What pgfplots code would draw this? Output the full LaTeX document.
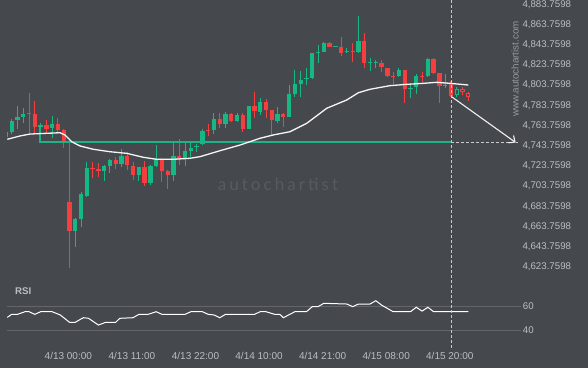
\documentclass[border=0pt]{standalone}
\usepackage{fontspec}
\setmainfont{Liberation Sans}
\newfontfamily\wmfont{Lato}[LetterSpace=18]
\usepackage{pgfplots}
\usepackage{pgfplotstable}
\pgfplotsset{compat=1.18}
\usetikzlibrary{arrows.meta}

\definecolor{bg}{RGB}{69,72,76}
\definecolor{cgreen}{RGB}{21,184,130}
\definecolor{lgreen}{RGB}{30,178,134}
\definecolor{cred}{RGB}{246,62,62}
\definecolor{lbl}{RGB}{186,189,193}
\definecolor{gridc}{RGB}{98,101,105}
\definecolor{wm}{RGB}{88,91,96}
\definecolor{wmurl}{RGB}{150,153,157}
\definecolor{dashc}{RGB}{200,202,205}

\pgfplotstableread{
i o h l c
0 4752.37 4759.30 4750.39 4757.32
1 4757.62 4769.70 4755.34 4768.21
2 4769.20 4783.06 4760.29 4772.17
3 4772.17 4781.08 4766.23 4775.14
6 4762.27 4766.23 4759.30 4764.25
8 4761.28 4773.16 4751.38 4765.24
12 4659.61 4672.18 4643.77 4671.19
13 4671.19 4697.92 4663.57 4695.94
14 4694.26 4727.62 4692.97 4721.68
17 4718.71 4724.65 4708.81 4723.66
18 4723.96 4730.29 4717.03 4729.30
20 4725.64 4740.19 4722.97 4733.56
23 4714.75 4722.97 4708.81 4722.37
25 4707.13 4724.65 4704.85 4723.66
26 4723.66 4744.45 4722.97 4730.29
29 4714.75 4746.13 4709.11 4733.56
31 4731.88 4746.73 4723.66 4738.51
32 4738.81 4746.73 4732.87 4741.78
33 4742.47 4745.44 4737.82 4743.46
34 4745.44 4759.99 4744.15 4758.31
36 4759.30 4775.83 4755.30 4770.19
38 4765.24 4777.42 4760.98 4775.14
40 4768.51 4776.43 4767.52 4774.15
42 4760.29 4783.36 4759.99 4783.06
44 4777.42 4790.68 4774.15 4786.72
47 4768.51 4782.37 4766.53 4775.14
49 4772.47 4803.85 4771.87 4794.94
50 4794.94 4818.70 4792.27 4804.84
51 4804.84 4818.01 4791.67 4808.80
52 4809.79 4820.38 4803.85 4811.08
53 4810.48 4835.83 4809.49 4835.83
54 4835.53 4843.45 4825.33 4836.52
55 4836.82 4846.72 4836.22 4845.73
57 4841.27 4842.46 4841.07 4842.26
59 4836.52 4840.18 4835.23 4837.51
61 4836.82 4872.16 4835.83 4847.41
63 4825.43 4830.28 4817.71 4826.42
64 4825.43 4828.60 4820.38 4826.42
68 4812.46 4820.98 4811.47 4818.70
70 4800.09 4803.85 4790.68 4801.08
71 4801.38 4814.74 4795.24 4812.76
73 4812.46 4830.28 4811.47 4829.39
76 4802.86 4814.74 4800.58 4803.85
}\greencandles

\pgfplotstableread{
i o h l c
4 4776.13 4795.93 4756.33 4775.14
5 4775.14 4788.01 4755.34 4762.57
7 4764.25 4769.20 4756.33 4760.29
9 4765.24 4771.18 4757.32 4759.30
10 4759.30 4760.29 4741.48 4748.71
11 4688.02 4748.41 4623.18 4659.31
15 4721.68 4727.92 4711.48 4720.69
16 4720.69 4726.63 4713.07 4718.71
19 4729.30 4732.27 4720.39 4725.64
21 4733.56 4737.82 4719.70 4724.35
22 4723.66 4727.92 4709.80 4714.75
24 4722.37 4728.91 4703.86 4707.13
27 4730.29 4731.28 4708.12 4718.71
28 4718.71 4719.70 4700.59 4714.75
30 4733.86 4750.09 4724.95 4730.59
35 4759.60 4765.24 4753.36 4758.61
37 4770.19 4776.43 4760.98 4765.24
39 4775.14 4776.43 4767.52 4768.51
41 4774.15 4775.83 4757.62 4760.29
43 4783.06 4796.62 4771.18 4778.11
45 4786.72 4789.69 4770.88 4779.10
46 4779.10 4779.10 4753.36 4769.20
48 4775.14 4776.43 4761.97 4772.47
56 4845.73 4846.72 4841.17 4841.77
58 4841.77 4851.07 4832.56 4835.83
60 4837.81 4845.13 4826.92 4836.82
62 4847.41 4855.03 4820.38 4825.33
65 4825.93 4828.60 4816.72 4821.18
66 4820.68 4820.98 4811.77 4812.46
67 4813.06 4817.02 4804.84 4812.07
69 4818.70 4818.70 4786.33 4799.59
72 4813.06 4816.72 4807.12 4812.07
74 4829.39 4830.28 4814.25 4815.73
75 4815.73 4815.73 4786.33 4802.56
77 4804.84 4807.81 4791.97 4792.96
}\redcandles

\pgfplotsset{
  candle/.style={draw=none, mark=none, forget plot,
    error bars/y dir=plus, error bars/y explicit, error bars/error mark=none},
}

\begin{document}
\begin{tikzpicture}
\useasboundingbox (0,0) rectangle (588pt,368pt);
\fill[bg] (0,0) rectangle (588pt,368pt);

\node[font=\wmfont\fontsize{17}{17}\selectfont, text=wm] at (278pt,184pt) {autochartist};
\node[rotate=90, font=\fontsize{9.8}{10}\selectfont, text=wmurl] at (515pt,299pt) {www.autochartist.com};
\node[font=\bfseries\fontsize{9.7}{10}\selectfont, text=lbl, anchor=west, inner sep=0pt] at (15pt,77pt) {RSI};

% ---------- price panel ----------
\begin{axis}[
  at={(7pt,88pt)}, anchor=south west, scale only axis,
  width=514pt, height=280pt,
  xmin=0.19, xmax=89.12, ymin=4610.8, ymax=4888.0,
  axis line style={draw=none}, major tick length=0pt,
  xtick=\empty,
  ytick={4623.7598,4643.7598,4663.7598,4683.7598,4703.7598,4723.7598,4743.7598,4763.7598,4783.7598,4803.7598,4823.7598,4843.7598,4863.7598,4883.7598},
  yticklabels={{4,623.7598},{4,643.7598},{4,663.7598},{4,683.7598},{4,703.7598},{4,723.7598},{4,743.7598},{4,763.7598},{4,783.7598},{4,803.7598},{4,823.7598},{4,843.7598},{4,863.7598},{4,883.7598}},
  yticklabel pos=right,
  yticklabel style={anchor=west, inner sep=0pt, xshift=1.3pt, font=\fontsize{9.7}{10}\selectfont, text=lbl},
  clip=true,
]
% green candles
\addplot[candle, error bars/error bar style={draw=cgreen, line width=1pt}]
  table[x=i, y=l, y error expr=\thisrow{h}-\thisrow{l}] {\greencandles};
\addplot[candle, error bars/error bar style={draw=cgreen, line width=4.3pt}]
  table[x=i, y=o, y error expr=\thisrow{c}-\thisrow{o}] {\greencandles};
% red candles
\addplot[candle, error bars/error bar style={draw=cred, line width=1pt}]
  table[x=i, y=l, y error expr=\thisrow{h}-\thisrow{l}] {\redcandles};
\addplot[candle, error bars/error bar style={draw=cred, line width=4.3pt}]
  table[x=i, y=c, y error expr=\thisrow{o}-\thisrow{c}] {\redcandles};
% hollow (forming) candles
\addplot[candle, error bars/error bar style={draw=cgreen, line width=1pt}]
  coordinates {(78,4792.27) +- (0,9.11)};
\addplot[candle, error bars/error bar style={draw=cgreen, line width=4.3pt}]
  coordinates {(78,4793.46) +- (0,6.13)};
\addplot[candle, error bars/error bar style={draw=bg, line width=2.3pt}]
  coordinates {(78,4794.50) +- (0,4.10)};
\addplot[candle, error bars/error bar style={draw=cred, line width=1pt}]
  coordinates {(79,4793.95) +- (0,8.22) (80,4787.52) +- (0,9.10)};
\addplot[candle, error bars/error bar style={draw=cred, line width=4.3pt}]
  coordinates {(79,4796.43) +- (0,3.16) (80,4792.27) +- (0,3.36)};
\addplot[candle, error bars/error bar style={draw=bg, line width=2.3pt}]
  coordinates {(79,4797.45) +- (0,1.15) (80,4793.30) +- (0,1.30)};

% support line
\addplot[lgreen, line width=2pt, mark=none] coordinates {(5.9,4764.25) (5.9,4747.1) (77,4747.1)};

% moving average
\addplot[white!92!gray, line width=1.3pt, mark=none] coordinates {
(0.24,4750.1) (2.44,4753.4) (4.17,4755.3) (9.36,4756.6) (10.22,4754.4) (11.38,4747.7)
(12.82,4743.5) (15.12,4740.2) (18.0,4737.8) (20.9,4736.2) (23.77,4732.3) (26.09,4730.3)
(28.96,4730.3) (31.85,4731.3) (33.58,4732.9) (37.04,4738.8) (40.5,4744.4) (43.96,4751.1)
(46.26,4754.4) (49.15,4757.6) (52.04,4765.9) (55.5,4780.8) (58.96,4789.0) (60.97,4796.2)
(62.99,4799.6) (66.45,4803.2) (69.34,4804.5) (72.21,4805.5) (74.53,4806.5) (76.83,4805.5)
(80.0,4803.85)};

% projection
\addplot[dashc, line width=0.8pt, dash pattern=on 3pt off 2pt, mark=none] coordinates {(77,4747.1) (88.6,4747.1)};
\addplot[dashc, line width=0.8pt, dash pattern=on 3pt off 2pt, mark=none] coordinates {(77,4888.0) (77,4610.8)};
\addplot[white!88!gray, line width=1.1pt, mark=none, -{Straight Barb[length=5pt,width=9pt]}] coordinates {(77.1,4792.3) (88.2,4746.9)};
\end{axis}

% ---------- RSI panel ----------
\begin{axis}[
  at={(7pt,23pt)}, anchor=south west, scale only axis,
  width=514pt, height=60pt,
  xmin=0.19, xmax=89.12, ymin=27.75, ymax=77.75,
  axis line style={draw=none}, major tick length=0pt,
  ytick={40,60}, yticklabels={40,60},
  ymajorgrids, grid style={gridc, line width=0.8pt},
  yticklabel pos=right,
  yticklabel style={anchor=west, inner sep=0pt, xshift=1.7pt, font=\fontsize{9.7}{10}\selectfont, text=lbl},
  xtick={10.8,21.8,32.8,43.8,54.8,65.8,76.8},
  xticklabels={4/13 00:00,4/13 11:00,4/13 22:00,4/14 10:00,4/14 21:00,4/15 08:00,4/15 20:00},
  xticklabel style={anchor=base, yshift=-14.5pt, font=\fontsize{10}{10}\selectfont, text=lbl},
  clip=false,
]
\addplot[white, line width=1pt, mark=none] coordinates {
(0.24,50.8) (1,53.3) (2,53.3) (3.3,55.5) (4,55.5) (5,53.3) (6,55.5) (8,55.5) (9.4,52.8)
(11,46.7) (12,46.7) (13.4,50.5) (14.3,50) (16,44.4) (17.3,46.7) (19,46.7) (19.7,50)
(22,50.5) (23,53.3) (24.6,53.3) (26,55.5) (27,53.3) (31,53.3) (32,55.5) (34,55.5)
(35,53.3) (36,52.8) (37,50.5) (38,53.3) (43,53.3) (44,55.5) (45,55.5) (46.5,53.3)
(47.4,53.3) (48,50.5) (50,55.5) (52,55.5) (53,59.7) (54,59.7) (55,62.5) (59,61.9)
(60,59.7) (61,61.9) (63,61.9) (64,64.7) (65,61) (67,55.5) (70,55.5) (71,59.2) (72,56)
(73,59.2) (74,55.5) (80,55.5)};
\addplot[dashc, line width=0.8pt, dash pattern=on 3pt off 2pt, mark=none] coordinates {(77,81.92) (77,24.4)};
\end{axis}
\end{tikzpicture}
\end{document}
